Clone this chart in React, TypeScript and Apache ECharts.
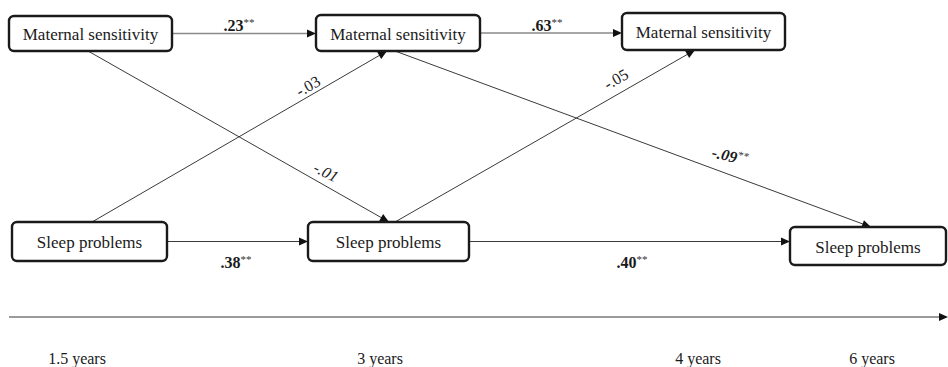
import React, { useEffect, useRef } from 'react';
import * as echarts from 'echarts';

// ---------- data ----------
const timepoints = ['1.5 years', '3 years', '4 years', '6 years'];
const nodeNames = [
  'Maternal sensitivity',
  'Maternal sensitivity',
  'Maternal sensitivity',
  'Sleep problems',
  'Sleep problems',
  'Sleep problems',
];
const pathFrom = [0, 1, 3, 4, 0, 3, 4, 1];
const pathTo = [1, 2, 4, 5, 4, 1, 2, 5];
const pathCoef = ['.23', '.63', '.38', '.40', '-.01', '-.03', '-.05', '-.09'];
const pathSig = ['**', '**', '**', '**', '', '', '', '**'];
const pathBold = [true, true, true, true, false, false, false, true];
const pathItalic = [false, false, false, false, true, false, false, true];

// ---------- layout (pixel space of the 948x367 canvas) ----------
const nodeBox = [
  [90.5, 33.5, 163, 35],
  [398, 33, 164, 36],
  [703.5, 31.5, 163, 37],
  [89.5, 241.5, 155, 39],
  [388.5, 241.5, 161, 39],
  [868, 246, 156, 38],
];
const anchorDx = [
  [0, 0], [0, 0], [0, 0], [0, 0],
  [-2.5, 0.5], [2.5, -11], [6.5, -8.5], [-3, 3],
];
const labelPos = [
  [239, 25, 0], [547, 25, 0], [236, 262, 0], [632, 262, 0],
  [326, 172, -27], [308, 86, 30], [616, 79, 30], [730, 156, -13],
];
const timeLineY = 317;
const timeLineX = [9, 948];
const timeLabelX = [77, 380, 698, 872];
const timeLabelY = 358;

const FAMILY = "'Liberation Serif', serif";
const font = (size: number, weight = 'normal', style = 'normal') =>
  `${style} ${weight} ${size}px ${FAMILY}`;

function edgeEnds(i: number) {
  const a = nodeBox[pathFrom[i]];
  const b = nodeBox[pathTo[i]];
  if (Math.abs(a[1] - b[1]) < 20) {
    const y = a[1];
    const fwd = b[0] > a[0];
    return [fwd ? a[0] + a[2] / 2 : a[0] - a[2] / 2, y, fwd ? b[0] - b[2] / 2 : b[0] + b[2] / 2, y];
  }
  const down = b[1] > a[1];
  const x1 = a[0] + anchorDx[i][0];
  const y1 = down ? a[1] + a[3] / 2 : a[1] - a[3] / 2;
  const x2 = b[0] + anchorDx[i][1];
  const y2 = down ? b[1] - b[3] / 2 : b[1] + b[3] / 2;
  return [x1, y1, x2, y2];
}

export default function App() {
  const ref = useRef<HTMLDivElement>(null);
  useEffect(() => {
    document.body.style.margin = '0';
    const chart = echarts.init(ref.current!, undefined, { renderer: 'svg' });

    const edgeData = pathFrom.map((_, i) => [...edgeEnds(i), i]);
    edgeData.push([timeLineX[0], timeLineY, timeLineX[1], timeLineY, -1]);

    const nodeData = nodeBox.map((b, i) => [b[0], b[1], b[2], b[3], i]);
    const labelData = labelPos.map((p, i) => [p[0], p[1], p[2], i]);
    const timeData = timepoints.map((_, i) => [timeLabelX[i], timeLabelY, i]);

    chart.setOption({
      animation: false,
      backgroundColor: '#fff',
      textStyle: { fontFamily: FAMILY },
      grid: { left: 0, right: 0, top: 0, bottom: 0 },
      xAxis: { type: 'value', min: 0, max: 948, show: false },
      yAxis: { type: 'value', min: 0, max: 367, inverse: true, show: false },
      series: [
        {
          type: 'custom',
          z: 1,
          clip: false,
          encode: { x: [0, 2], y: [1, 3] },
          data: edgeData,
          renderItem: (params: any, api: any) => {
            const p1 = api.coord([api.value(0), api.value(1)]);
            const p2 = api.coord([api.value(2), api.value(3)]);
            const idx = api.value(4);
            const dx = p2[0] - p1[0];
            const dy = p2[1] - p1[1];
            const len = Math.sqrt(dx * dx + dy * dy);
            const ux = dx / len;
            const uy = dy / len;
            const nx = -uy;
            const ny = ux;
            const L = 9;
            const W = 4;
            const horizontalTop = idx === 0 || idx === 1;
            const isTime = idx === -1;
            const stroke = isTime ? '#9a9a9a' : horizontalTop ? '#8a8a8a' : '#3a3a3a';
            const lw = isTime ? 2 : horizontalTop ? 1.6 : 1;
            const bx = p2[0] - ux * L;
            const by = p2[1] - uy * L;
            return {
              type: 'group',
              children: [
                {
                  type: 'line',
                  shape: { x1: p1[0], y1: p1[1], x2: p2[0] - ux * L * 0.6, y2: p2[1] - uy * L * 0.6 },
                  style: { stroke, lineWidth: lw },
                },
                {
                  type: 'polygon',
                  shape: {
                    points: [
                      [p2[0], p2[1]],
                      [bx + nx * W, by + ny * W],
                      [bx - nx * W, by - ny * W],
                    ],
                  },
                  style: { fill: '#111' },
                },
              ],
            };
          },
        },
        {
          type: 'custom',
          z: 2,
          clip: false,
          encode: { x: 0, y: 1 },
          data: nodeData,
          renderItem: (params: any, api: any) => {
            const c = api.coord([api.value(0), api.value(1)]);
            const s = api.size([api.value(2), api.value(3)]);
            const idx = api.value(4);
            return {
              type: 'group',
              children: [
                {
                  type: 'rect',
                  shape: { x: c[0] - s[0] / 2, y: c[1] - s[1] / 2, width: s[0], height: s[1], r: 5 },
                  style: { fill: '#fff', stroke: '#1a1a1a', lineWidth: 2.4 },
                },
                {
                  type: 'text',
                  x: c[0],
                  y: c[1] + 1,
                  style: {
                    text: nodeNames[idx],
                    font: font(17),
                    fill: '#1a1a1a',
                    align: 'center',
                    verticalAlign: 'middle',
                  },
                },
              ],
            };
          },
        },
        {
          type: 'custom',
          z: 3,
          clip: false,
          encode: { x: 0, y: 1 },
          data: labelData,
          renderItem: (params: any, api: any) => {
            const c = api.coord([api.value(0), api.value(1)]);
            const rot = (api.value(2) * Math.PI) / 180;
            const idx = api.value(3);
            const sig = pathSig[idx];
            const bold = pathBold[idx] ? 'bold' : 'normal';
            const ital = pathItalic[idx] ? 'italic' : 'normal';
            return {
              type: 'text',
              x: c[0],
              y: c[1],
              rotation: rot,
              style: {
                text: `{v|${pathCoef[idx]}}` + (sig ? `{s|${sig}}` : ''),
                align: 'center',
                verticalAlign: 'middle',
                font: font(16, bold, ital),
                rich: {
                  v: {
                    font: font(16, bold, ital),
                    fill: '#1a1a1a',
                    lineHeight: 18,
                  },
                  s: {
                    font: font(11, 'normal', ital),
                    fill: '#333',
                    verticalAlign: 'top',
                    lineHeight: 18,
                  },
                },
              },
            };
          },
        },
        {
          type: 'custom',
          z: 3,
          clip: false,
          encode: { x: 0, y: 1 },
          data: timeData,
          renderItem: (params: any, api: any) => {
            const c = api.coord([api.value(0), api.value(1)]);
            const idx = api.value(2);
            return {
              type: 'text',
              x: c[0],
              y: c[1],
              style: {
                text: timepoints[idx],
                font: font(16),
                fill: '#1a1a1a',
                align: 'center',
                verticalAlign: 'middle',
              },
            };
          },
        },
      ],
    });
    return () => chart.dispose();
  }, []);
  return <div ref={ref} style={{ width: 948, height: 367 }} />;
}
